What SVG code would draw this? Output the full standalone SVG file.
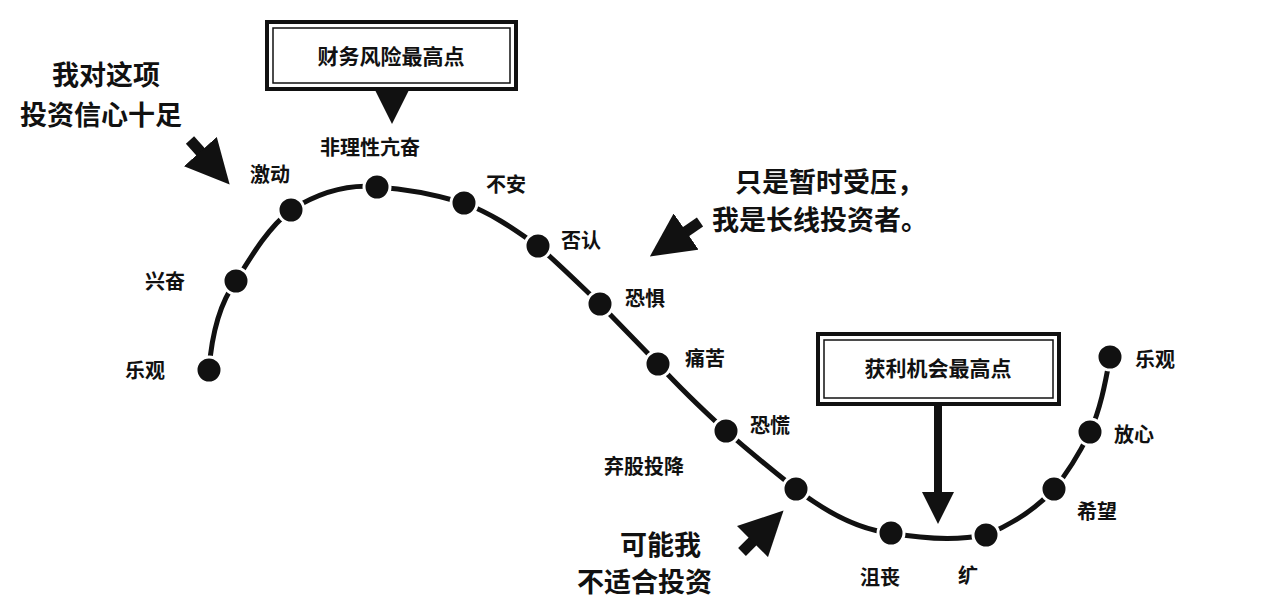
<svg xmlns="http://www.w3.org/2000/svg" width="1280" height="616" viewBox="0 0 1280 616">
<style>
text{font-family:"Noto Sans CJK SC",sans-serif;fill:#111;font-weight:bold}
.l{font-size:20px}
.a{font-size:27px}
.b{font-size:21px}
.dot{fill:#111;stroke:#fff;stroke-width:3}
.box{fill:#fff;stroke:#111;stroke-width:4}
</style>
<defs>
<marker id="ah" markerWidth="4" markerHeight="4" refX="2" refY="2" orient="auto"><path d="M0,0L4,2L0,4z" fill="#111"/></marker>
</defs>
<rect width="1280" height="616" fill="#fff"/>
<g id="connectors" stroke="#111" fill="none">
<path d="M209,370 C212,330 222,300 236,281 C252,255 268,228 291,210 C320,192 350,184 377,187 C410,189 440,196 464,203 C495,215 515,230 538,246 C560,265 580,285 600,304 C620,325 640,345 658,364 C680,388 703,410 726,431 C750,452 772,470 796,489 C830,515 860,530 891,533 C930,540 960,540 986,535 C1010,525 1035,510 1054,489 C1070,470 1080,452 1090,432 C1100,410 1105,385 1110,357" stroke-width="5"/>
<line x1="392" y1="92" x2="392" y2="104" stroke-width="10" marker-end="url(#ah)"/>
<line x1="938" y1="405" x2="938" y2="508" stroke-width="8" marker-end="url(#ah)"/>
<line x1="190" y1="140" x2="215" y2="168" stroke-width="11" marker-end="url(#ah)"/>
<line x1="700" y1="222" x2="668" y2="244" stroke-width="11" marker-end="url(#ah)"/>
<line x1="742" y1="552" x2="768" y2="526" stroke-width="11" marker-end="url(#ah)"/>
</g>
<g id="box1"><rect class="box" x="267" y="22" width="249" height="67"/><rect x="273" y="28" width="237" height="55" fill="none" stroke="#111" stroke-width="1.5"/><text class="b" x="391" y="64" text-anchor="middle">财务风险最高点</text></g>
<g id="box2"><rect class="box" x="818" y="334" width="241" height="70"/><rect x="824" y="340" width="229" height="58" fill="none" stroke="#111" stroke-width="1.5"/><text class="b" x="938" y="376" text-anchor="middle">获利机会最高点</text></g>
<g id="n1"><circle class="dot" cx="209" cy="370" r="13"/><text class="l" x="125" y="378">乐观</text></g>
<g id="n2"><circle class="dot" cx="236" cy="281" r="13"/><text class="l" x="145" y="289">兴奋</text></g>
<g id="n3"><circle class="dot" cx="291" cy="210" r="13"/><text class="l" x="250" y="182">激动</text></g>
<g id="n4"><circle class="dot" cx="377" cy="187" r="13"/><text class="l" x="320" y="155">非理性亢奋</text></g>
<g id="n5"><circle class="dot" cx="464" cy="203" r="13"/><text class="l" x="486" y="192">不安</text></g>
<g id="n6"><circle class="dot" cx="538" cy="246" r="13"/><text class="l" x="561" y="248">否认</text></g>
<g id="n7"><circle class="dot" cx="600" cy="304" r="13"/><text class="l" x="625" y="306">恐惧</text></g>
<g id="n8"><circle class="dot" cx="658" cy="364" r="13"/><text class="l" x="685" y="366">痛苦</text></g>
<g id="n9"><circle class="dot" cx="726" cy="431" r="13"/><text class="l" x="750" y="433">恐慌</text></g>
<g id="n10"><circle class="dot" cx="796" cy="489" r="13"/><text class="l" x="604" y="474">弃股投降</text></g>
<g id="n11"><circle class="dot" cx="891" cy="533" r="13"/><text class="l" x="860" y="585">沮丧</text></g>
<g id="n12"><circle class="dot" cx="986" cy="535" r="13"/><text class="l" x="958" y="583">纩</text></g>
<g id="n13"><circle class="dot" cx="1054" cy="489" r="13"/><text class="l" x="1077" y="519">希望</text></g>
<g id="n14"><circle class="dot" cx="1090" cy="432" r="13"/><text class="l" x="1114" y="442">放心</text></g>
<g id="n15"><circle class="dot" cx="1110" cy="357" r="13"/><text class="l" x="1135" y="367">乐观</text></g>
<g id="notes">
<text class="a" x="52" y="85">我对这项</text>
<text class="a" x="20" y="125">投资信心十足</text>
<text class="a" x="735" y="192">只是暂时受压，</text>
<text class="a" x="712" y="230">我是长线投资者。</text>
<text class="a" x="620" y="555">可能我</text>
<text class="a" x="577" y="592">不适合投资</text>
</g>
</svg>
